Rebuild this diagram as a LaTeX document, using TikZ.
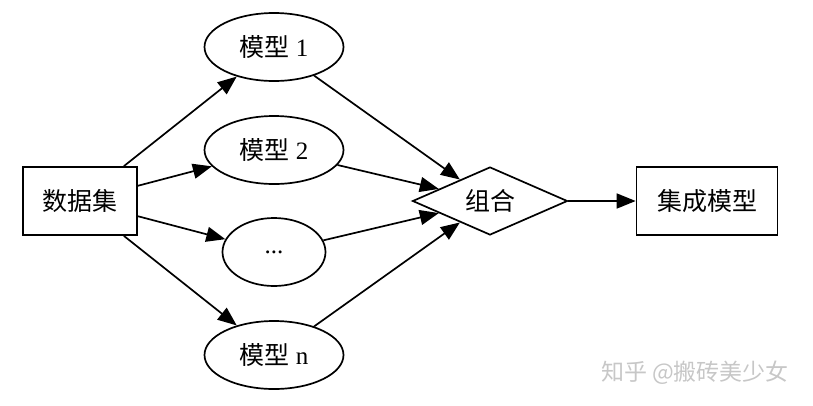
\documentclass[tikz,border=0pt]{standalone}
\usepackage{fontspec}
\setmainfont{Liberation Serif}
\newfontfamily\cjk{Noto Sans CJK SC}
\usetikzlibrary{shapes.geometric,arrows.meta}
\begin{document}
\begin{tikzpicture}[x=1pt,y=-1pt,
  every node/.style={font=\fontsize{25}{28}\selectfont, line width=1.7pt, inner sep=0pt},
  boxnode/.style={draw, rectangle, minimum height=68pt},
  ellnode/.style={draw, ellipse, minimum width=139pt, minimum height=68pt},
  dianode/.style={draw, diamond, aspect=2.28, minimum width=155pt, minimum height=68pt},
  conn/.style={line width=1.7pt, -{Triangle[length=19pt,width=15pt]}},
  wm/.style={font=\cjk\fontsize{23}{26}\selectfont, text=black!22}]
\useasboundingbox (0,0) rectangle (813,405);
\node[boxnode, minimum width=114pt] (data) at (80,201) {\cjk 数据集};
\node[ellnode] (m1) at (274,47) {{\cjk 模型} 1};
\node[ellnode] (m2) at (274,150) {{\cjk 模型} 2};
\node[ellnode, minimum width=103pt] (md) at (274,252) {...};
\node[ellnode] (mn) at (274,355) {{\cjk 模型} n};
\node[dianode] (comb) at (490,201) {\cjk 组合};
\node[boxnode, minimum width=141pt] (ens) at (707,201) {\cjk 集成模型};
\draw[conn] (data) -- (m1);
\draw[conn] (data) -- (m2);
\draw[conn] (data) -- (md);
\draw[conn] (data) -- (mn);
\draw[conn] (m1) -- (comb);
\draw[conn] (m2) -- (comb);
\draw[conn] (md) -- (comb);
\draw[conn] (mn) -- (comb);
\draw[conn] (comb) -- (ens);
\node[wm] (water) at (695,373) {知乎 @搬砖美少女};
\end{tikzpicture}
\end{document}
